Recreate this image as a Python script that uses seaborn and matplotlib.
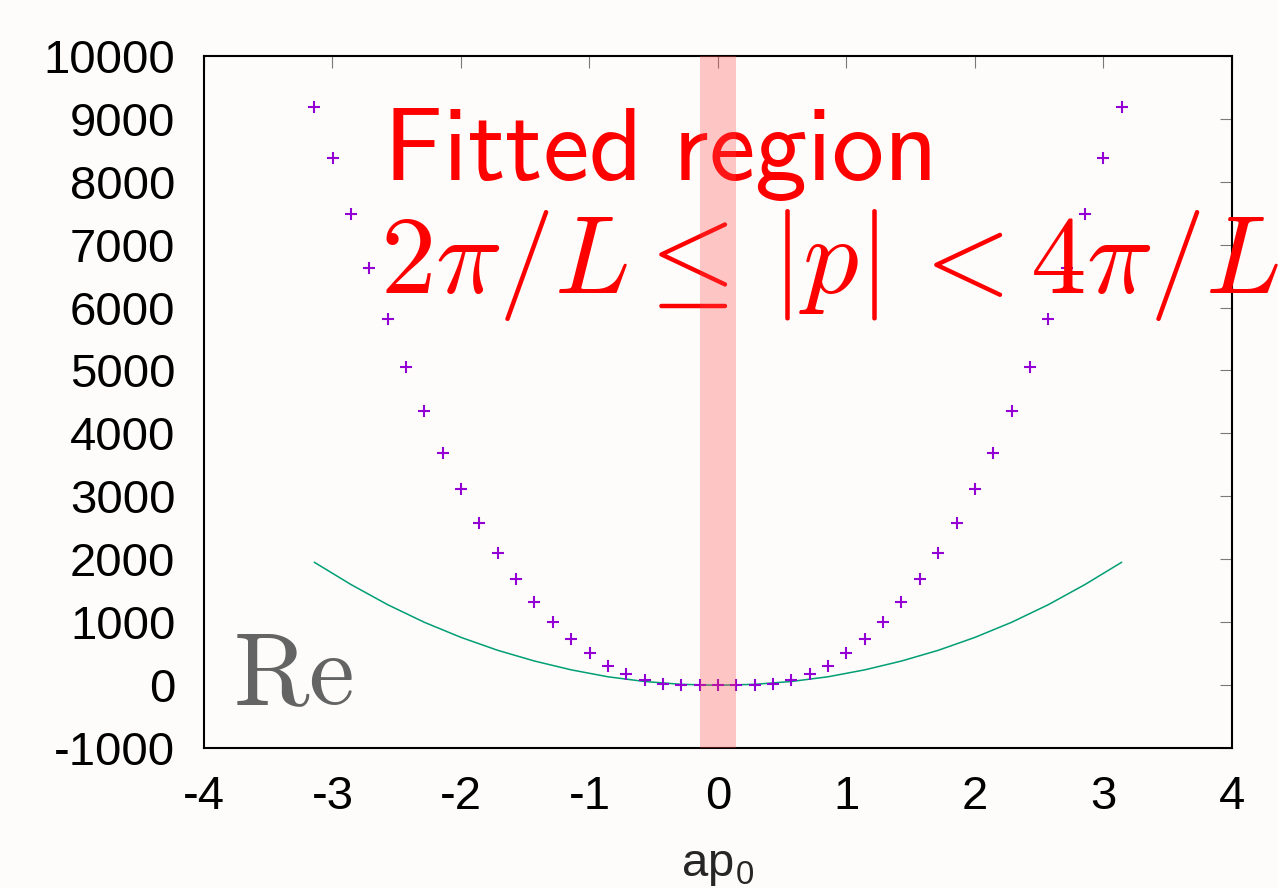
import matplotlib
matplotlib.use("Agg")
import matplotlib.pyplot as plt
import seaborn as sns

# Momentum grid (lattice units) and the real part of the measured quantity
p_lattice = [-3.1416, -2.9988, -2.8560, -2.7132, -2.5704, -2.4276, -2.2848, -2.1420,
             -1.9992, -1.8564, -1.7136, -1.5708, -1.4280, -1.2852, -1.1424, -0.9996,
             -0.8568, -0.7140, -0.5712, -0.4284, -0.2856, -0.1428, 0.0000,
             0.1428, 0.2856, 0.4284, 0.5712, 0.7140, 0.8568, 0.9996, 1.1424,
             1.2852, 1.4280, 1.5708, 1.7136, 1.8564, 1.9992, 2.1420, 2.2848,
             2.4276, 2.5704, 2.7132, 2.8560, 2.9988, 3.1416]
re_values = [9190, 8370, 7486, 6623, 5813, 5051, 4352, 3694,
             3113, 2583, 2106, 1684, 1328, 1001, 731, 508,
             311, 179, 84, 16, 5, 1, 0,
             1, 5, 16, 84, 179, 311, 508, 731,
             1001, 1328, 1684, 2106, 2583, 3113, 3694, 4352,
             5051, 5813, 6623, 7486, 8370, 9190]

# Fitted curve, evaluated on a coarser grid
fit_p = [-3.1416, -2.8560, -2.5704, -2.2848, -1.9992, -1.7136, -1.4280, -1.1424,
         -0.8568, -0.5712, -0.2856, 0.0000, 0.2856, 0.5712, 0.8568, 1.1424,
         1.4280, 1.7136, 1.9992, 2.2848, 2.5704, 2.8560, 3.1416]
fit_values = [1954, 1600, 1280, 1000, 760, 555, 385, 245,
              135, 60, 15, 0, 15, 60, 135, 245,
              385, 555, 760, 1000, 1280, 1600, 1954]

# Momentum window used in the fit
fit_window = (-0.1428, 0.1428)

x_ticks = [-4, -3, -2, -1, 0, 1, 2, 3, 4]
y_ticks = [-1000, 0, 1000, 2000, 3000, 4000, 5000, 6000, 7000, 8000, 9000, 10000]

sns.set_theme(style="white")
plt.rcParams["font.family"] = ["Liberation Sans", "DejaVu Sans"]
plt.rcParams["mathtext.fontset"] = "cm"

bg = "#fdfcfb"
fig = plt.figure(figsize=(12.78, 8.88), dpi=100, facecolor=bg)
ax = fig.add_axes([0.1596, 0.1574, 0.8044, 0.7799])
ax.set_facecolor(bg)

sns.scatterplot(x=p_lattice, y=re_values, marker="+", s=80, color="#9400d3",
                linewidth=1.5, ax=ax, zorder=3)
sns.lineplot(x=fit_p, y=fit_values, color="#009e73", linewidth=1.1,
             sort=False, estimator=None, ax=ax, zorder=2)

ax.axvspan(fit_window[0], fit_window[1], color=(1.0, 0.28, 0.28), alpha=0.3,
           lw=0, zorder=5)

ax.set_xlim(-4, 4)
ax.set_ylim(-1000, 10000)
ax.set_xticks(x_ticks)
ax.set_xticklabels([str(t) for t in x_ticks])
ax.set_yticks(y_ticks)
ax.set_yticklabels([str(t) for t in y_ticks])

for side in ["left", "right", "top", "bottom"]:
    ax.spines[side].set_visible(True)
    ax.spines[side].set_color("black")
    ax.spines[side].set_linewidth(1.5)

ax.tick_params(axis="both", which="major", direction="in", length=8.6,
               width=0.8, color="#7a7a7a", labelsize=34, labelcolor="black",
               top=True, right=True)
ax.tick_params(axis="x", pad=19)
ax.tick_params(axis="y", pad=20.5)

ax.set_xlabel(r"ap$_\mathregular{0}$", fontsize=34, labelpad=18)
ax.set_ylabel("")

ax.text(0.174, 0.8205, r"$\mathsf{Fitted\ region}$", transform=ax.transAxes,
        fontsize=75, color="red", math_fontfamily="cm", va="baseline", ha="left")
ax.text(0.1712, 0.6574, r"$2\pi/L \leq \,|p|\, < 4\pi/L$", transform=ax.transAxes,
        fontsize=80, color="red", math_fontfamily="cm", va="baseline", ha="left")
ax.text(0.0282, 0.064, r"$\mathrm{Re}$", transform=ax.transAxes,
        fontsize=74, color="#646464", math_fontfamily="cm", va="baseline", ha="left")

fig.savefig("out.png", dpi=100, facecolor=bg)
